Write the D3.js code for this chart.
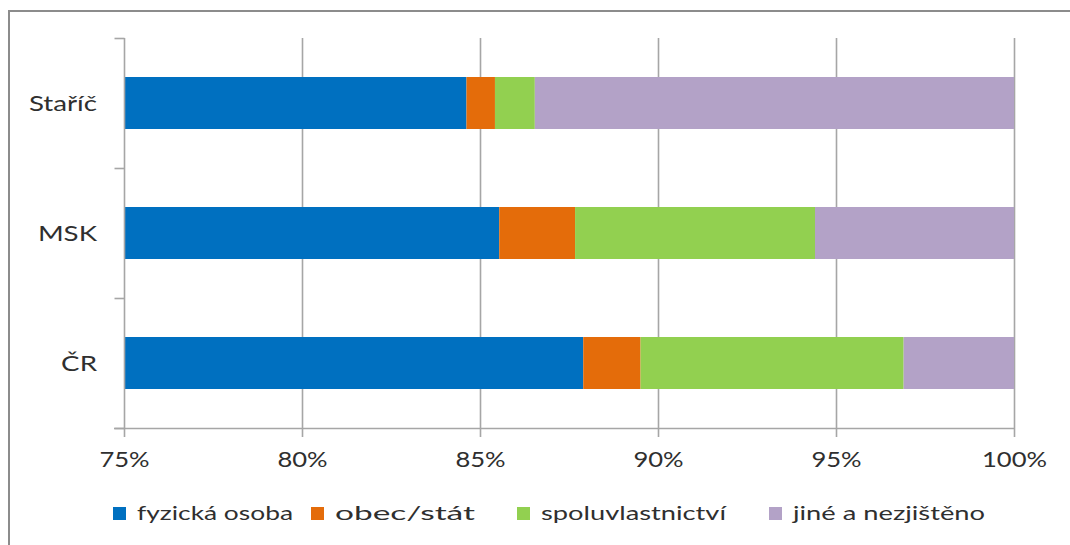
<!DOCTYPE html>
<html>
<head>
<meta charset="utf-8">
<script src="https://cdn.jsdelivr.net/npm/d3@7"></script>
<style>
  html, body { margin: 0; padding: 0; background: #fff; }
  svg { display: block; }
  text { font-family: Lato, "Open Sans", sans-serif; fill: #2f2f2f; }
</style>
</head>
<body>
<svg id="chart" width="1070" height="545"></svg>
<script>
// ---- data ----
const categories = ["Staříč", "MSK", "ČR"];
const seriesNames = ["fyzická osoba", "obec/stát", "spoluvlastnictví", "jiné a nezjištěno"];
const fyzickaOsoba = [84.62, 85.54, 87.90];
const obecStat = [0.80, 2.13, 1.61];
const spoluvlastnictvi = [1.12, 6.74, 7.39];
const jineNezjisteno = [13.46, 5.59, 3.10];
const tickValues = [0.75, 0.80, 0.85, 0.90, 0.95, 1.00];
const tickLabels = ["75%", "80%", "85%", "90%", "95%", "100%"];

// ---- styles / layout ----
const colors = ["#0070C0", "#E46C0A", "#92D050", "#B3A2C7"];
const gridColor = "#a6a6a6";
const legendX = [113, 311, 517, 769];
const legendTextW = [156, 140, 185, 192];

const seriesValues = [fyzickaOsoba, obecStat, spoluvlastnictvi, jineNezjisteno];
const table = categories.map((c, i) => {
  const row = { cat: c };
  seriesNames.forEach((s, k) => row[s] = seriesValues[k][i] / 100);
  return row;
});

const svg = d3.select("#chart");

// border
svg.append("rect")
  .attr("x", 9).attr("y", 11).attr("width", 1080).attr("height", 560)
  .attr("fill", "none").attr("stroke", "#8c8c8c").attr("stroke-width", 2);

const x = d3.scaleLinear().domain([0.75, 1]).range([124, 1014]).clamp(true);
const y = d3.scaleBand().domain(categories).range([38, 428])
  .paddingInner(0.6).paddingOuter(0.3);

// gridlines
svg.append("g").selectAll("line").data(tickValues.slice(1)).join("line")
  .attr("x1", d => Math.round(x(d)) + 0.5).attr("x2", d => Math.round(x(d)) + 0.5)
  .attr("y1", 38).attr("y2", 428)
  .attr("stroke", gridColor).attr("stroke-width", 1.6);

// bars
const stack = d3.stack().keys(seriesNames)(table);
svg.append("g").selectAll("g").data(stack).join("g")
  .attr("fill", (d, i) => colors[i])
  .selectAll("rect").data(d => d).join("rect")
  .attr("x", d => x(d[0]))
  .attr("width", d => x(d[1]) - x(d[0]))
  .attr("y", d => y(d.data.cat))
  .attr("height", y.bandwidth());

// x axis
const xAxis = d3.axisBottom(x).tickValues(tickValues)
  .tickFormat((d, i) => tickLabels[i]).tickSize(9).tickPadding(0);
const gx = svg.append("g").attr("transform", "translate(0,428)").call(xAxis);
gx.select(".domain").attr("stroke", gridColor).attr("stroke-width", 1.6)
  .attr("d", "M114,0.5H1014");
gx.selectAll(".tick line").attr("stroke", gridColor).attr("stroke-width", 1.6);
gx.selectAll(".tick text").attr("y", 0).attr("dy", 0)
  .attr("transform", "translate(0,39) scale(1.22,1)")
  .style("font-size", "21px").style("font-family", "Lato, sans-serif").attr("fill", "#2f2f2f");

// y axis
const yAxis = d3.axisLeft(d3.scaleLinear().domain([0, 3]).range([38, 428]))
  .tickValues([0, 1, 2, 3]).tickFormat("").tickSize(10);
const gy = svg.append("g").attr("transform", "translate(124.5,0)").call(yAxis);
gy.select(".domain").attr("stroke", gridColor).attr("stroke-width", 1.6).attr("d", "M0,38V428");
gy.selectAll(".tick line").attr("stroke", gridColor).attr("stroke-width", 1.6);

// category labels
svg.append("g").selectAll("text").data(categories).join("text")
  .attr("text-anchor", "end")
  .attr("transform", d => `translate(97,${y(d) + y.bandwidth() / 2 + 7.5}) scale(1.32,1)`)
  .style("font-size", "21px")
  .text(d => d);

// legend
const legend = svg.append("g").attr("transform", "translate(0,520)");
seriesNames.forEach((s, i) => {
  const g = legend.append("g");
  g.append("rect").attr("x", legendX[i]).attr("y", -13).attr("width", 13).attr("height", 13)
    .attr("fill", colors[i]);
  g.append("text").attr("x", legendX[i] + 24).attr("y", 0)
    .style("font-size", "20px")
    .attr("textLength", legendTextW[i]).attr("lengthAdjust", "spacingAndGlyphs")
    .text(s);
});
</script>
</body>
</html>
